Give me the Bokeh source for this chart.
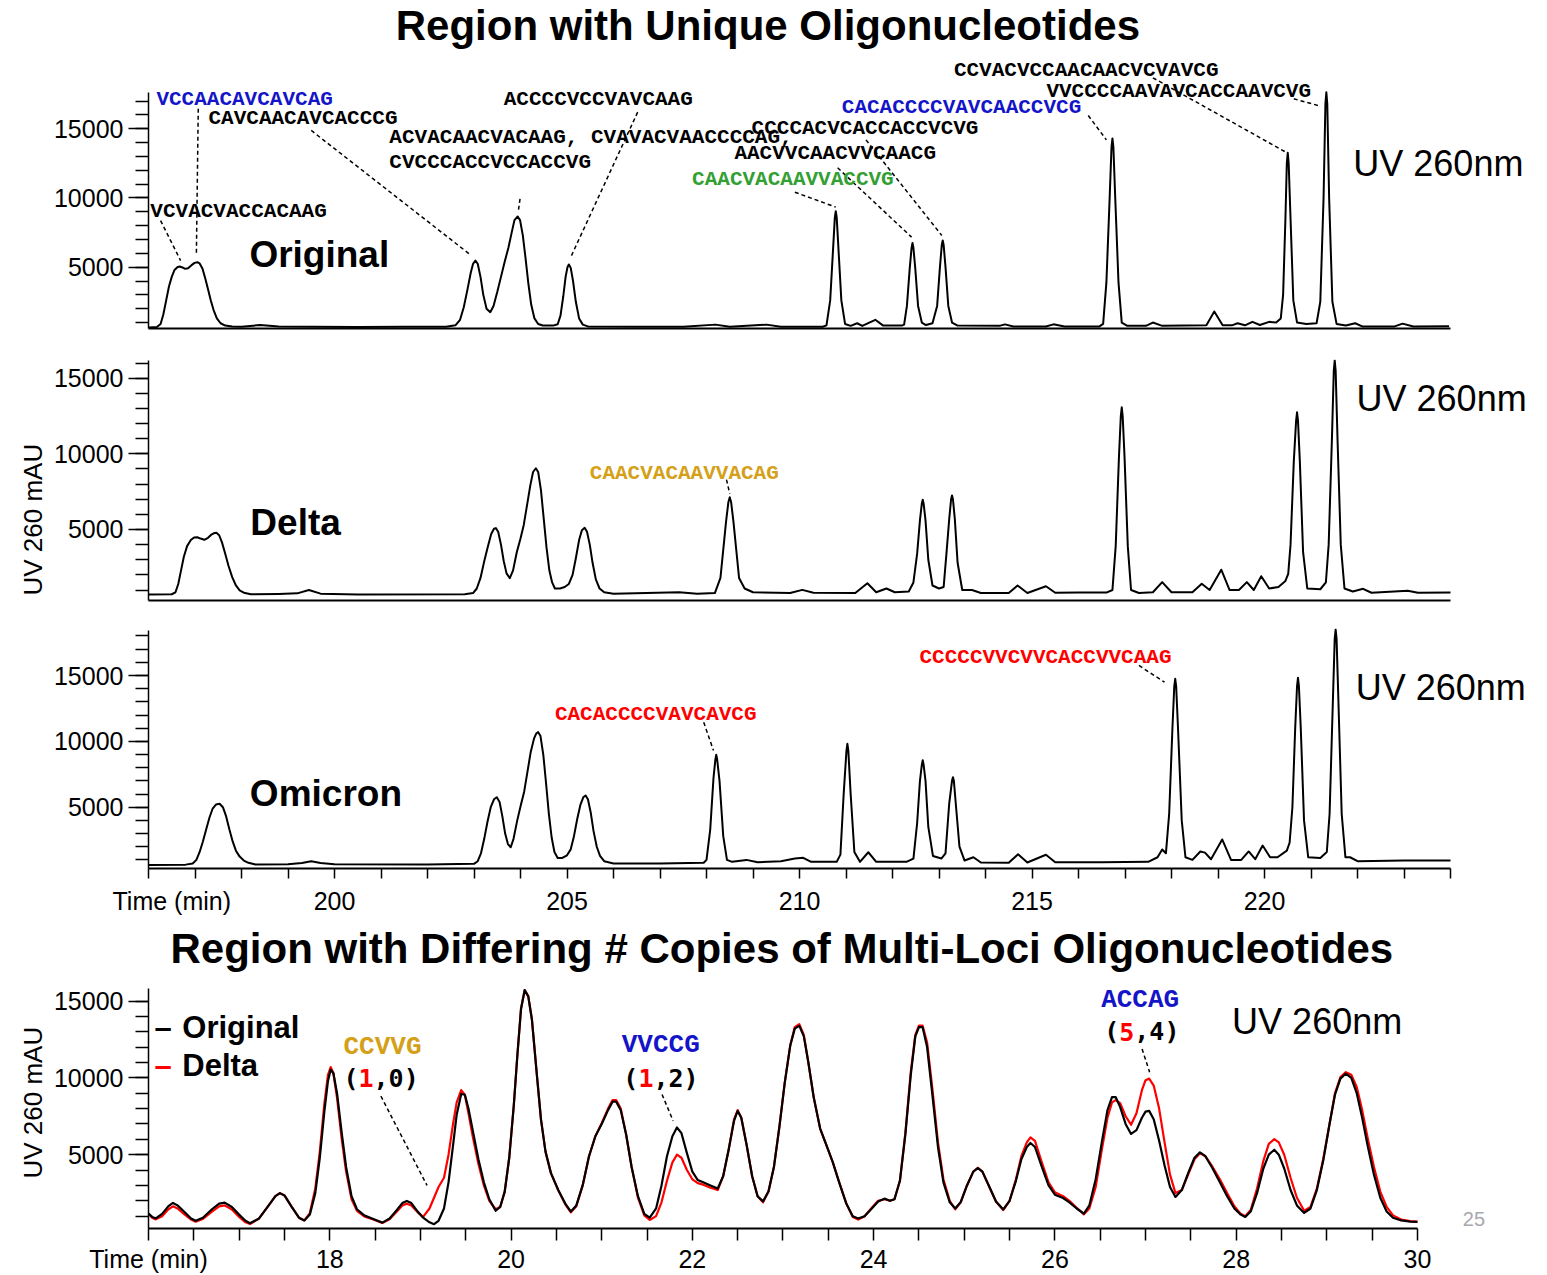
import math
from bokeh.plotting import figure
from bokeh.layouts import column
from bokeh.models import Range1d, FixedTicker, Label, Title, ColumnDataSource
from bokeh.embed import file_html
from bokeh.resources import INLINE

# ---------------------------------------------------------------
# UV 260 nm chromatograms, (time [min], absorbance [mAU]) vertices
# ---------------------------------------------------------------
original_pts = [
    (196.00, 650), (196.18, 680), (196.26, 900), (196.32, 1600), (196.38, 2600),
    (196.44, 3600), (196.50, 4300), (196.56, 4800), (196.62, 5000), (196.67, 5050),
    (196.73, 4980), (196.79, 4880), (196.85, 4930), (196.92, 5130), (196.99, 5310),
    (197.05, 5360), (197.10, 5270), (197.16, 4900), (197.22, 4200), (197.28, 3400),
    (197.34, 2600), (197.40, 1900), (197.47, 1300), (197.55, 950), (197.65, 780),
    (197.80, 710), (198.00, 700), (198.40, 820), (198.80, 720), (199.50, 700),
    (200.50, 680), (201.50, 690), (202.40, 700), (202.60, 800), (202.70, 1200),
    (202.78, 2100), (202.86, 3400), (202.93, 4600), (202.98, 5250), (203.03, 5480),
    (203.08, 5250), (203.14, 4300), (203.20, 3000), (203.27, 2000), (203.35, 1750),
    (203.42, 2200), (203.50, 3200), (203.58, 4300), (203.66, 5400), (203.74, 6400),
    (203.81, 7500), (203.87, 8400), (203.94, 8660), (203.99, 8400), (204.05, 7300),
    (204.11, 5600), (204.17, 3800), (204.23, 2300), (204.30, 1300), (204.38, 900),
    (204.48, 790), (204.70, 780), (204.80, 880), (204.86, 1500), (204.92, 2900),
    (204.97, 4300), (205.01, 5000), (205.04, 5200), (205.08, 4950), (205.13, 4000),
    (205.19, 2500), (205.26, 1300), (205.34, 850), (205.45, 720), (206.50, 700),
    (207.50, 700), (208.19, 850), (208.50, 700), (209.29, 850), (209.60, 700),
    (210.50, 700), (210.58, 800), (210.66, 2600), (210.72, 6200), (210.76, 8600),
    (210.78, 9050), (210.80, 8600), (210.84, 6200), (210.90, 2600), (210.98, 900),
    (211.10, 760), (211.24, 950), (211.35, 760), (211.63, 1200), (211.80, 780),
    (212.20, 780), (212.25, 850), (212.31, 2200), (212.37, 4900), (212.41, 6400),
    (212.43, 6750), (212.45, 6400), (212.49, 4900), (212.55, 2200), (212.63, 1000),
    (212.72, 820), (212.86, 950), (212.96, 2200), (213.02, 5000), (213.06, 6600),
    (213.08, 6930), (213.10, 6600), (213.14, 5000), (213.20, 2200), (213.28, 1000),
    (213.40, 780), (214.30, 760), (214.42, 870), (214.60, 720), (215.30, 720),
    (215.46, 870), (215.70, 720), (216.45, 720), (216.53, 900), (216.60, 3900),
    (216.67, 10000), (216.71, 13700), (216.73, 14300), (216.75, 13700), (216.79, 10000),
    (216.86, 3900), (216.93, 1000), (217.05, 760), (217.45, 760), (217.60, 1000),
    (217.80, 760), (218.75, 800), (218.92, 1800), (219.10, 800), (219.30, 800),
    (219.42, 950), (219.58, 800), (219.74, 1050), (219.90, 820), (220.10, 1050),
    (220.25, 1000), (220.35, 1300), (220.40, 3000), (220.45, 8500), (220.48, 12500),
    (220.50, 13270), (220.52, 12500), (220.56, 8500), (220.62, 2600), (220.70, 1000),
    (220.90, 900), (221.12, 950), (221.20, 2500), (221.27, 10000), (221.31, 16800),
    (221.33, 17640), (221.35, 16800), (221.39, 10000), (221.46, 2500), (221.55, 900),
    (221.75, 780), (221.95, 950), (222.10, 720), (222.80, 720), (222.97, 920),
    (223.20, 720), (223.97, 730),
]

delta_pts = [
    (196.00, 700), (196.50, 720), (196.58, 850), (196.64, 1400), (196.70, 2300),
    (196.76, 3200), (196.83, 3900), (196.91, 4300), (196.98, 4470), (197.05, 4490),
    (197.12, 4400), (197.20, 4320), (197.28, 4450), (197.36, 4680), (197.42, 4770),
    (197.46, 4780), (197.52, 4620), (197.58, 4150), (197.65, 3400), (197.72, 2600),
    (197.80, 1850), (197.88, 1300), (197.96, 980), (198.05, 820), (198.20, 720),
    (198.80, 740), (199.20, 780), (199.45, 1000), (199.70, 760), (200.50, 700),
    (202.80, 720), (202.98, 800), (203.06, 1100), (203.14, 1800), (203.22, 2900),
    (203.30, 3900), (203.37, 4700), (203.43, 5050), (203.47, 5090), (203.52, 4850),
    (203.58, 4000), (203.64, 2900), (203.70, 2100), (203.77, 1780), (203.84, 2300),
    (203.92, 3500), (204.00, 4400), (204.07, 5300), (204.14, 6600), (204.21, 7900),
    (204.27, 8800), (204.33, 9050), (204.38, 8800), (204.44, 7600), (204.50, 5700),
    (204.56, 3800), (204.62, 2300), (204.68, 1500), (204.74, 1100), (204.85, 1100),
    (204.95, 1200), (205.04, 1400), (205.12, 2000), (205.19, 3100), (205.26, 4300),
    (205.32, 4950), (205.38, 5110), (205.43, 4850), (205.49, 4000), (205.55, 2800),
    (205.62, 1700), (205.70, 1100), (205.80, 850), (206.00, 760), (207.41, 850),
    (207.80, 760), (208.18, 800), (208.30, 1800), (208.42, 5500), (208.47, 6800),
    (208.50, 7130), (208.53, 6800), (208.58, 5500), (208.70, 1800), (208.82, 1100),
    (209.00, 850), (209.80, 800), (210.06, 1010), (210.30, 820), (211.20, 800),
    (211.46, 1450), (211.65, 850), (211.87, 1100), (212.05, 850), (212.35, 900),
    (212.45, 1500), (212.53, 3400), (212.59, 5600), (212.63, 6700), (212.65, 6960),
    (212.67, 6700), (212.71, 5600), (212.77, 3000), (212.86, 1300), (213.00, 1100),
    (213.10, 1200), (213.16, 3400), (213.22, 5700), (213.26, 7000), (213.28, 7250),
    (213.30, 7000), (213.34, 5700), (213.40, 2800), (213.50, 1000), (213.71, 1000),
    (213.90, 800), (214.50, 800), (214.69, 1300), (214.90, 800), (215.30, 1250),
    (215.50, 820), (216.00, 830), (216.60, 830), (216.73, 1000), (216.80, 3900),
    (216.87, 9800), (216.91, 12500), (216.93, 13080), (216.95, 12500), (216.99, 9800),
    (217.06, 3900), (217.13, 1000), (217.30, 800), (217.60, 850), (217.80, 1520),
    (218.00, 850), (218.45, 850), (218.65, 1410), (218.82, 1000), (219.07, 2340),
    (219.25, 1000), (219.45, 1000), (219.62, 1520), (219.77, 1000), (219.93, 1910),
    (220.10, 1100), (220.30, 1200), (220.45, 1600), (220.51, 2070), (220.56, 4000),
    (220.63, 9500), (220.68, 12200), (220.70, 12750), (220.72, 12200), (220.76, 9500),
    (220.83, 3500), (220.92, 1100), (221.20, 1050), (221.32, 1500), (221.38, 4000),
    (221.45, 11000), (221.49, 15500), (221.51, 16170), (221.53, 15500), (221.57, 11000),
    (221.64, 4000), (221.72, 1100), (221.90, 900), (222.12, 1080), (222.30, 820),
    (223.08, 950), (223.30, 820), (224.00, 840),
]

omicron_pts = [
    (196.00, 620), (196.80, 640), (196.95, 720), (197.03, 1000), (197.10, 1600),
    (197.17, 2400), (197.24, 3300), (197.31, 4200), (197.38, 4900), (197.45, 5200),
    (197.53, 5260), (197.60, 5000), (197.67, 4300), (197.74, 3300), (197.81, 2400),
    (197.88, 1700), (197.96, 1250), (198.05, 950), (198.15, 780), (198.30, 650),
    (199.00, 660), (199.30, 760), (199.50, 900), (199.70, 760), (200.00, 660),
    (202.00, 650), (203.00, 700), (203.08, 900), (203.15, 1500), (203.22, 2600),
    (203.29, 3900), (203.36, 5000), (203.43, 5600), (203.49, 5760), (203.55, 5400),
    (203.61, 4300), (203.67, 3000), (203.73, 2200), (203.79, 1960), (203.85, 2600),
    (203.93, 4000), (204.01, 5200), (204.08, 6200), (204.15, 7700), (204.22, 9200),
    (204.29, 10200), (204.34, 10600), (204.38, 10700), (204.43, 10400), (204.49, 9000),
    (204.55, 6800), (204.61, 4500), (204.67, 2700), (204.73, 1600), (204.80, 1150),
    (204.90, 1150), (205.00, 1350), (205.08, 1800), (205.15, 2800), (205.22, 4100),
    (205.29, 5200), (205.35, 5750), (205.40, 5890), (205.45, 5600), (205.51, 4600),
    (205.57, 3200), (205.64, 2000), (205.71, 1300), (205.80, 900), (206.00, 720),
    (207.00, 720), (207.94, 780), (208.00, 1000), (208.08, 3300), (208.15, 7200),
    (208.19, 8600), (208.21, 8980), (208.23, 8600), (208.28, 7000), (208.36, 2800),
    (208.44, 1000), (208.55, 850), (208.86, 1000), (209.10, 820), (209.60, 900),
    (209.90, 1100), (210.08, 1160), (210.25, 850), (210.80, 850), (210.88, 1400),
    (210.95, 6000), (211.01, 9300), (211.03, 9810), (211.05, 9300), (211.10, 6000),
    (211.18, 1600), (211.30, 850), (211.48, 1580), (211.65, 850), (212.30, 850),
    (212.45, 1100), (212.53, 3800), (212.59, 7000), (212.63, 8200), (212.65, 8570),
    (212.67, 8200), (212.71, 7000), (212.77, 3500), (212.87, 1300), (213.05, 1100),
    (213.14, 1500), (213.22, 5300), (213.28, 7000), (213.30, 7280), (213.32, 7000),
    (213.36, 5300), (213.44, 2000), (213.55, 950), (213.74, 1200), (213.90, 800),
    (214.50, 780), (214.70, 1430), (214.90, 800), (215.30, 1390), (215.50, 820),
    (216.50, 830), (217.50, 850), (217.70, 1200), (217.80, 1790), (217.88, 1500),
    (217.95, 4500), (218.02, 11000), (218.06, 14200), (218.08, 14750), (218.10, 14200),
    (218.14, 11000), (218.22, 4000), (218.30, 1200), (218.45, 1000), (218.62, 1640),
    (218.72, 1550), (218.85, 1050), (219.09, 2550), (219.28, 1000), (219.50, 1000),
    (219.66, 1640), (219.80, 1050), (219.96, 2090), (220.12, 1200), (220.28, 1200),
    (220.48, 1700), (220.54, 2300), (220.60, 5000), (220.66, 11000), (220.70, 14200),
    (220.72, 14830), (220.74, 14200), (220.78, 11000), (220.85, 4000), (220.94, 1200),
    (221.20, 1150), (221.34, 1600), (221.40, 4500), (221.47, 13000), (221.51, 17800),
    (221.53, 18490), (221.55, 17800), (221.59, 13000), (221.66, 4500), (221.74, 1200),
    (221.84, 1200), (222.00, 900), (223.00, 950), (224.00, 950),
]

# multi-loci region: (time, Original, Delta)
multi_pts = [
    (16.00, 1170, 1170), (16.04, 950, 900), (16.08, 860, 790), (16.15, 1150, 1000),
    (16.22, 1650, 1450), (16.27, 1860, 1640), (16.32, 1700, 1500), (16.40, 1250, 1100),
    (16.47, 850, 780), (16.52, 700, 640), (16.60, 900, 820), (16.70, 1450, 1300),
    (16.78, 1820, 1640), (16.84, 1880, 1700), (16.92, 1600, 1430), (17.00, 1100, 950),
    (17.07, 700, 600), (17.12, 540, 490), (17.22, 850, 850), (17.32, 1650, 1650),
    (17.40, 2300, 2300), (17.45, 2500, 2500), (17.50, 2350, 2350), (17.58, 1600, 1600),
    (17.66, 900, 900), (17.72, 720, 720), (17.78, 1100, 1200), (17.84, 2500, 2800),
    (17.89, 4800, 5200), (17.94, 7800, 8300), (17.98, 9800, 10200), (18.01, 10540, 10700),
    (18.04, 10300, 10300), (18.08, 9000, 8700), (18.13, 6500, 6100), (18.18, 4200, 3900),
    (18.24, 2300, 2100), (18.30, 1450, 1350), (18.38, 1050, 980), (18.48, 820, 780),
    (18.58, 580, 560), (18.66, 850, 800), (18.74, 1400, 1300), (18.80, 1850, 1700),
    (18.85, 1990, 1810), (18.90, 1850, 1700), (18.97, 1300, 1250), (19.03, 900, 950),
    (19.10, 600, 1500), (19.15, 480, 2200), (19.20, 700, 2900), (19.26, 1500, 3500),
    (19.31, 3200, 5000), (19.36, 5600, 7000), (19.40, 7600, 8400), (19.45, 8950, 9200),
    (19.49, 8900, 8900), (19.53, 8000, 7700), (19.58, 6500, 6100), (19.64, 4700, 4400),
    (19.70, 3200, 3000), (19.76, 2100, 2000), (19.83, 1350, 1450), (19.88, 1600, 1600),
    (19.93, 2600, 2600), (19.98, 4800, 4800), (20.03, 8200, 8200), (20.07, 11500, 11500),
    (20.11, 14500, 14500), (20.15, 15710, 15710), (20.19, 15300, 15300), (20.23, 13800, 13800),
    (20.28, 10500, 10500), (20.33, 7300, 7300), (20.38, 5200, 5200), (20.44, 3800, 3800),
    (20.52, 2700, 2700), (20.60, 1800, 1750), (20.66, 1300, 1250), (20.72, 1700, 1650),
    (20.79, 3000, 3000), (20.86, 4900, 4900), (20.93, 6200, 6200), (21.00, 7000, 7050),
    (21.07, 7900, 8000), (21.12, 8450, 8550), (21.16, 8450, 8550), (21.21, 7900, 8000),
    (21.27, 6300, 6300), (21.33, 4200, 4200), (21.40, 2300, 2200), (21.47, 1150, 1050),
    (21.53, 900, 750), (21.60, 1500, 1000), (21.66, 3000, 1900), (21.72, 4900, 3300),
    (21.78, 6200, 4500), (21.83, 6770, 5000), (21.88, 6400, 4800), (21.94, 5100, 4000),
    (22.00, 3900, 3400), (22.06, 3350, 3150), (22.12, 3200, 3050), (22.20, 3000, 2850),
    (22.28, 2800, 2700), (22.34, 3600, 3600), (22.40, 5300, 5300), (22.46, 7200, 7300),
    (22.50, 7850, 7900), (22.54, 7400, 7400), (22.60, 5600, 5600), (22.66, 3600, 3600),
    (22.72, 2300, 2300), (22.78, 1960, 1900), (22.84, 2600, 2600), (22.90, 4200, 4200),
    (22.96, 6800, 6800), (23.02, 9700, 9700), (23.08, 12100, 12100), (23.13, 13200, 13300),
    (23.18, 13380, 13500), (23.23, 12700, 12800), (23.28, 11000, 11000), (23.34, 8700, 8700),
    (23.41, 6700, 6700), (23.48, 5600, 5600), (23.55, 4500, 4500), (23.62, 3200, 3200),
    (23.70, 1800, 1800), (23.77, 1000, 950), (23.83, 850, 780), (23.90, 1000, 1000),
    (23.98, 1500, 1550), (24.05, 1950, 2000), (24.12, 2140, 2100), (24.18, 2000, 2000),
    (24.23, 2100, 2100), (24.29, 3300, 3300), (24.35, 6300, 6400), (24.41, 10200, 10400),
    (24.46, 12700, 12800), (24.50, 13300, 13400), (24.54, 13300, 13400), (24.59, 12000, 12300),
    (24.65, 8800, 9200), (24.71, 5500, 5800), (24.77, 3200, 3400), (24.84, 1900, 2000),
    (24.90, 1500, 1450), (24.96, 1900, 1900), (25.03, 3000, 3000), (25.10, 3900, 3900),
    (25.15, 4120, 4150), (25.20, 3900, 3900), (25.27, 3000, 3000), (25.35, 1950, 1950),
    (25.43, 1440, 1400), (25.50, 2000, 2000), (25.57, 3300, 3400), (25.63, 4700, 4900),
    (25.69, 5500, 5800), (25.73, 5760, 6120), (25.78, 5500, 5900), (25.85, 4300, 4600),
    (25.93, 3000, 3200), (26.00, 2400, 2550), (26.09, 2180, 2300), (26.16, 1900, 2000),
    (26.24, 1500, 1550), (26.32, 1170, 1120), (26.38, 1700, 1500), (26.45, 3400, 2900),
    (26.52, 5900, 5400), (26.58, 7900, 7400), (26.63, 8750, 8400), (26.67, 8750, 8550),
    (26.72, 8100, 8350), (26.78, 7000, 7500), (26.84, 6350, 6950), (26.90, 6600, 7700),
    (26.96, 7400, 9200), (27.00, 7800, 9850), (27.04, 7850, 9950), (27.09, 7300, 9500),
    (27.15, 5900, 8000), (27.21, 4300, 5800), (27.27, 2900, 3700), (27.33, 2250, 2500),
    (27.40, 2700, 2700), (27.47, 3800, 3700), (27.54, 4800, 4700), (27.60, 5150, 5100),
    (27.66, 4900, 4900), (27.74, 4100, 4200), (27.82, 3200, 3400), (27.90, 2300, 2500),
    (27.98, 1500, 1650), (28.05, 1100, 1150), (28.10, 950, 1000), (28.16, 1300, 1400),
    (28.23, 2500, 2800), (28.30, 4100, 4600), (28.36, 5000, 5700), (28.42, 5320, 6010),
    (28.47, 5000, 5800), (28.53, 4100, 5000), (28.60, 2700, 3500), (28.67, 1700, 2200),
    (28.75, 1210, 1350), (28.82, 1500, 1600), (28.89, 2700, 2800), (28.96, 4600, 4700),
    (29.03, 7000, 7000), (29.09, 8900, 9000), (29.15, 9950, 10050), (29.21, 10280, 10370),
    (29.27, 10000, 10200), (29.33, 9000, 9400), (29.39, 7400, 7900), (29.45, 5600, 6100),
    (29.52, 3700, 4200), (29.59, 2200, 2600), (29.66, 1300, 1600), (29.73, 900, 1050),
    (29.82, 720, 780), (29.92, 650, 680), (30.00, 630, 650),
]

# axis ticks
y_major = [5000, 10000, 15000]
top_x_major = [196.5, 200, 205, 210, 215, 220]
top_x_minor = list(range(196, 225))
low_x_major = [16, 18, 20, 22, 24, 26, 28, 30]
low_x_minor = [16 + 0.5 * i for i in range(29)]
time_label = "Time (min)"

SEQ = "Liberation Mono"
SANS = "Liberation Sans"
MONO = "DejaVu Sans Mono"
BLUE = "#1414C8"
GREEN = "#33A033"
GOLD = "#D4A017"
RED = "#FF0000"

LEFT = 148                        # common frame left edge (px)
TOP_X = (196, 196 + 1399 / 46.5)  # 46.5 px per minute, axis drawn 196-224
LOW_X = (16, 16 + 1399 / 90.64)   # 90.64 px per minute, axis drawn 16-30


def make_panel(height, xr, yr, top, bottom, axis_bounds, minor_top, x_bounds):
    p = figure(width=1547, height=height, x_range=Range1d(*xr), y_range=Range1d(*yr),
               output_backend="svg", toolbar_location=None,
               min_border_left=LEFT, min_border_right=0,
               min_border_top=top, min_border_bottom=bottom)
    p.title.visible = False
    p.outline_line_color = None
    p.grid.visible = False
    p.background_fill_color = "white"
    p.border_fill_color = "white"

    ya = p.yaxis[0]
    ya.ticker = FixedTicker(ticks=y_major, minor_ticks=list(range(1000, minor_top + 1, 1000)))
    ya.bounds = axis_bounds
    ya.major_tick_in = 0
    ya.major_tick_out = 20
    ya.minor_tick_in = 0
    ya.minor_tick_out = 13
    ya.major_label_standoff = 5
    ya.major_label_text_font = SANS
    ya.major_label_text_font_size = "25px"
    ya.major_label_text_color = "black"
    ya.axis_line_width = 1.5
    ya.major_tick_line_width = 1.5
    ya.minor_tick_line_width = 1.5

    xa = p.xaxis[0]
    xa.bounds = x_bounds
    xa.axis_line_width = 2
    xa.major_tick_in = 0
    xa.minor_tick_in = 0
    xa.major_tick_out = 0
    xa.major_label_text_font = SANS
    xa.major_label_text_font_size = "25px"
    xa.major_label_text_color = "black"
    xa.minor_tick_line_width = 1.5
    return p


def no_ticks(p):
    xa = p.xaxis[0]
    xa.ticker = FixedTicker(ticks=[], minor_ticks=[])
    xa.minor_tick_out = 0
    xa.major_label_standoff = 0


def time_axis(p, majors, minors, tick_len, standoff):
    xa = p.xaxis[0]
    xa.ticker = FixedTicker(ticks=majors, minor_ticks=minors)
    xa.minor_tick_out = tick_len
    xa.major_label_standoff = standoff
    xa.major_label_overrides = {majors[0]: time_label}


def y_title(p, offset):
    p.add_layout(Title(text="UV 260 mAU", align="left", offset=offset, standoff=6,
                       text_font=SANS, text_font_size="26px", text_font_style="normal",
                       text_color="black"), "left")


def trace(p, pts, color="black", width=2.0):
    t = [a[0] for a in pts]
    v = [a[1] for a in pts]
    p.line(t, v, line_color=color, line_width=width, line_join="round")


def text(p, x, y, s, color="black", size="21px", font=SEQ, bold=True, align="left", **kw):
    p.add_layout(Label(x=x, y=y, text=s, text_font=font, text_font_size=size,
                       text_font_style="bold" if bold else "normal",
                       text_color=color, text_baseline="middle",
                       text_align=align, **kw))


def leaders(p, segs):
    src = ColumnDataSource(dict(x0=[s[0] for s in segs], y0=[s[1] for s in segs],
                                x1=[s[2] for s in segs], y1=[s[3] for s in segs]))
    p.segment("x0", "y0", "x1", "y1", source=src, line_color="black",
              line_width=1.5, line_dash="4 3")


# ---------------- Original ----------------
p1 = make_panel(344, TOP_X, (570, 24270), 0, 16, (570, 17630), 17000, (196, 224))
no_ticks(p1)
trace(p1, original_pts)
text(p1, 209.32, 22464, "Region with Unique Oligonucleotides", size="42px",
     font=SANS, align="center")
text(p1, 198.17, 5918, "Original", size="37px", font=SANS)
text(p1, 221.91, 12493, "UV 260nm", size="36px", font=SANS, bold=False)
text(p1, 196.17, 17139, "VCCAACAVCAVCAG", BLUE)
text(p1, 197.29, 15751, "CAVCAACAVCACCCG")
text(p1, 201.18, 14335, "ACVACAACVACAAG, CVAVACVAACCCCAG,")
text(p1, 201.18, 12572, "CVCCCACCVCCACCVG")
text(p1, 196.04, 9032, "VCVACVACCACAAG")
text(p1, 203.64, 17103, "ACCCCVCCVAVCAAG")
text(p1, 213.32, 19176, "CCVACVCCAACAACVCVAVCG")
text(p1, 215.31, 17666, "VVCCCCAAVAVCACCAAVCVG")
text(p1, 210.91, 16503, "CACACCCCVAVCAACCVCG", BLUE)
text(p1, 208.97, 14993, "CCCCACVCACCACCVCVG")
text(p1, 208.60, 13194, "AACVVCAACVVCAACG")
text(p1, 207.69, 11322, "CAACVACAAVVACCVG", GREEN)
leaders(p1, [
    (197.07, 16445, 197.03, 5970),
    (196.26, 8370, 196.69, 5480),
    (199.50, 14880, 202.94, 5850),
    (203.99, 9940, 203.95, 8970),
    (206.52, 16200, 205.08, 5720),
    (209.90, 10420, 210.78, 9340),
    (210.82, 12180, 212.41, 7170),
    (211.43, 14200, 213.06, 7290),
    (216.21, 15960, 216.60, 14200),
    (217.60, 18685, 220.46, 13310),
    (220.63, 17168, 221.15, 16684),
])

# ---------------- Delta ----------------
p2 = make_panel(270, TOP_X, (307, 16236), 15, 14, (307, 16150), 16000, (196, 224))
no_ticks(p2)
trace(p2, delta_pts)
y_title(p2, 5)
text(p2, 198.19, 5483, "Delta", size="37px", font=SANS)
text(p2, 221.98, 13638, "UV 260nm", size="36px", font=SANS, bold=False)
text(p2, 205.49, 8734, "CAACVACAAVVACAG", GOLD)
leaders(p2, [(208.43, 8300, 208.50, 7360)])

# ---------------- Omicron ----------------
p3 = make_panel(311, TOP_X, (346, 18569), 14, 57, (346, 18400), 18000, (196, 224))
time_axis(p3, top_x_major, top_x_minor, 10, 8)
trace(p3, omicron_pts)
text(p3, 198.18, 6078, "Omicron", size="37px", font=SANS)
text(p3, 221.96, 14066, "UV 260nm", size="36px", font=SANS, bold=False)
text(p3, 204.74, 12024, "CACACCCCVAVCAVCG", RED)
text(p3, 212.58, 16390, "CCCCCVVCVVCACCVVCAAG", RED)
leaders(p3, [(207.94, 11450, 208.15, 9310), (217.30, 15760, 217.85, 14490)])

# ---------------- multi-loci comparison ----------------
p4 = make_panel(350, LOW_X, (197, 19913), 0, 45, (197, 15840), 15000, (16, 30))
time_axis(p4, low_x_major, low_x_minor, 12, 4)
trace(p4, [(a[0], a[2]) for a in multi_pts], color=RED, width=2.2)
trace(p4, [(a[0], a[1]) for a in multi_pts], color="black", width=2.2)
y_title(p4, 50)
text(p4, 22.987, 18426, "Region with Differing # Copies of Multi-Loci Oligonucleotides",
     size="42px", font=SANS, align="center")
text(p4, 16.066, 13287, "\u2013", size="31px", font=SANS)
text(p4, 16.373, 13287, "Original", size="31px", font=SANS)
text(p4, 16.066, 10831, "\u2013", RED, size="31px", font=SANS)
text(p4, 16.373, 10831, "Delta", size="31px", font=SANS)
text(p4, 27.955, 13643, "UV 260nm", size="36px", font=SANS, bold=False)

CH = 15.05  # advance of one 25px mono character
for (tx, cy, seq, col), (px, py, first, rest) in zip(
        [(18.151, 11994, "CCVVG", GOLD), (21.221, 12123, "VVCCG", BLUE),
         (26.510, 15065, "ACCAG", BLUE)],
        [(18.151, 9958, "1", ",0)"), (21.239, 9958, "1", ",2)"), (26.544, 12996, "5", ",4)")]):
    text(p4, tx, cy, seq, col, size="26px")
    text(p4, px, py, "(", size="25px", font=MONO)
    text(p4, px, py, first, RED, size="25px", font=MONO, x_offset=CH)
    text(p4, px, py, rest, size="25px", font=MONO, x_offset=2 * CH)
leaders(p4, [(18.564, 8810, 19.073, 3000), (21.666, 8920, 21.788, 7200),
             (26.962, 11880, 27.045, 10370)])
text(p4, 30.50, 844, "25", "#A8A8B0", size="20px", font=SANS, bold=False)

layout = column(p1, p2, p3, p4, spacing=0)
open("out.html", "w").write(file_html(layout, INLINE))
